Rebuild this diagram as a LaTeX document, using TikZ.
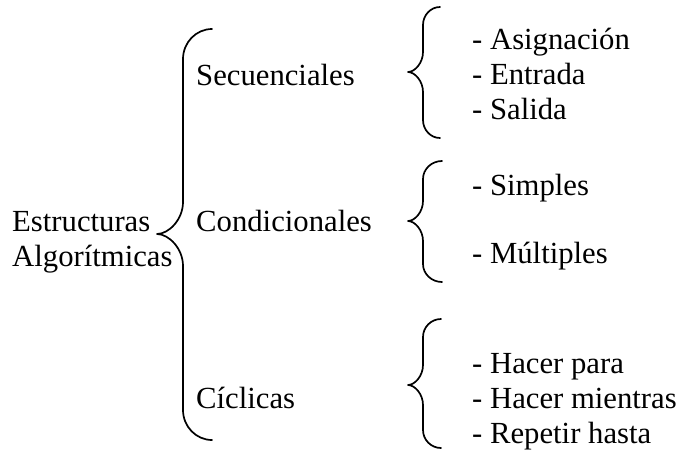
\documentclass[tikz,border=0pt]{standalone}
\usepackage{fontspec}
\setmainfont{Liberation Serif}
\newcommand\drawbrace[8]{%
  \draw[bracestyle] (#1,#4) .. controls ({#2+0.45*(#1-#2)},#4) and (#2,{#4+0.45*#7}) .. (#2,{#4+#7})
    -- (#2,{#5-#8}) .. controls (#2,{#5-0.45*#8}) and ({#3+0.45*(#2-#3)},#5) .. (#3,#5)
    .. controls ({#3+0.45*(#2-#3)},#5) and (#2,{#5+0.45*#8}) .. (#2,{#5+#8})
    -- (#2,{#6-#7}) .. controls (#2,{#6-0.45*#7}) and ({#2+0.45*(#1-#2)},#6) .. (#1,#6);}
\begin{document}
\begin{tikzpicture}[x=1pt,y=-1pt,
  bracestyle/.style={line width=1.7pt,line cap=round,line join=round},
  lbl/.style={anchor=base west,inner sep=0pt,font=\fontsize{30.7pt}{35pt}\selectfont}]
\useasboundingbox (0,0) rectangle (680,450);
% root
\node[lbl] (root1) at (12,231) {Estructuras};
\node[lbl] (root2) at (12,266) {Algorítmicas};
% main brace
\drawbrace{212}{183}{157}{29}{234}{440}{30}{32}
% categories
\node[lbl] (sec) at (196,85) {Secuenciales};
\node[lbl] (con) at (196,231) {Condicionales};
\node[lbl] (cic) at (196,408) {Cíclicas};
% sub braces
\drawbrace{440}{423}{408}{7}{72}{138}{18}{20}
\drawbrace{442}{423}{408}{161}{221}{282}{18}{20}
\drawbrace{441}{423}{408}{319}{385}{448}{18}{20}
% items
\node[lbl] (s1) at (472,49) {- Asignación};
\node[lbl] (s2) at (472,84) {- Entrada};
\node[lbl] (s3) at (472,119) {- Salida};
\node[lbl] (c1) at (472,195) {- Simples};
\node[lbl] (c2) at (472,263) {- Múltiples};
\node[lbl] (l1) at (472,373) {- Hacer para};
\node[lbl] (l2) at (472,408) {- Hacer mientras};
\node[lbl] (l3) at (472,443) {- Repetir hasta};
\end{tikzpicture}
\end{document}
